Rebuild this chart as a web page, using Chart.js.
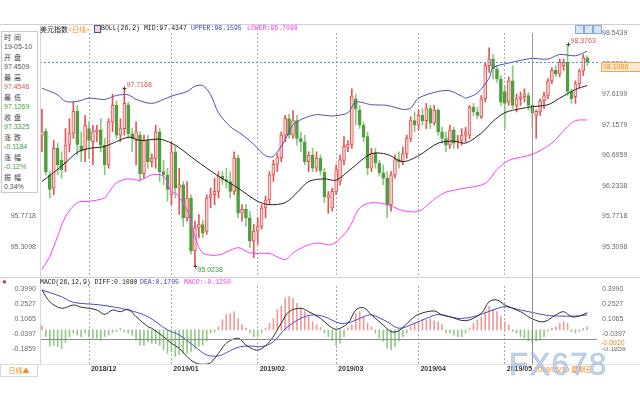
<!DOCTYPE html>
<html>
<head>
<meta charset="utf-8">
<script src="https://cdn.jsdelivr.net/npm/chart.js@4/dist/chart.umd.min.js"></script>
<style>
body { margin: 0; width: 640px; height: 400px; overflow: hidden; position: relative; background: #fff; }
canvas { position: absolute; left: 0; }
#main { top: 0; }
#macd { top: 277px; }
.hl { position: absolute; left: 0; width: 640px; height: 1px; background: #d0d0d0; }
.vl { position: absolute; width: 1px; background: #d6d6d6; }
.txt { position: absolute; white-space: nowrap; font: 6.5px/8px "Liberation Mono", "Noto Sans CJK SC", monospace; color: #222; }
.cjk { font-family: "Noto Sans CJK SC", sans-serif; font-size: 7px; }
#info { position: absolute; left: 1px; top: 31px; width: 37px; height: 162px; box-sizing: border-box;
  border: 1px solid #c8c8c8; background: #fff; padding-left: 2px;
  font: 7px/10px "Liberation Sans", "Noto Sans CJK SC", sans-serif; color: #555; }
#info .k { font-family: "Noto Sans CJK SC", sans-serif; letter-spacing: 3px; color: #444; }
#info .up { color: #e05550; }
#info .dn { color: #3f9a3f; }
#daybtn { position: absolute; left: 0; top: 364px; width: 38px; height: 13px; box-sizing: border-box;
  border: 1px solid #d8d8d8; font: 7px/11px "Noto Sans CJK SC", sans-serif; color: #f08a24; text-align: center; }
#wm { position: absolute; left: 509px; top: 349px; font: 31px/31px "Liberation Sans", Arial, sans-serif;
  letter-spacing: 1.5px; color: rgba(178, 203, 234, 0.8); -webkit-text-stroke: 0.6px rgba(125, 155, 196, 0.55); }
.btn { position: absolute; top: 25px; width: 7px; height: 7px; background: #d4e5f7; border: 1px solid #86aad2; }
</style>
</head>
<body>
<canvas id="main" width="640" height="277"></canvas>
<canvas id="macd" width="640" height="123"></canvas>

<div class="hl" style="top:24px"></div>
<div class="hl" style="top:277px"></div>
<div class="hl" style="top:364px;background:#e2e2e2"></div>
<div class="vl" style="left:40px;top:24px;height:341px"></div>

<div class="txt cjk" style="left:40px;top:25px">美元指数</div>
<div class="txt" style="left:68px;top:25px;color:#f0901c"><span>&lt;</span><span class="cjk">日线</span><span>&gt;</span></div>
<div style="position:absolute;left:94px;top:25px;width:5px;height:6px;border:1px solid #4b4bb4;background:#f3d4d4"></div>
<div class="txt" style="left:101px;top:25px">BOLL(26,2) MID:97.4347</div>
<div class="txt" style="left:191px;top:25px;color:#3b3bb8">UPPER:98.1595</div>
<div class="txt" style="left:247px;top:25px;color:#f03cf0">LOWER:96.7098</div>

<div class="btn" style="left:575px"></div>
<div class="btn" style="left:584px"></div>
<div class="btn" style="left:593px"></div>

<div id="info">
  <div class="k">时间</div><div>19-05-10</div>
  <div class="k">开盘</div><div>97.4509</div>
  <div class="k">最高</div><div class="up">97.4546</div>
  <div class="k">最低</div><div class="dn">97.1269</div>
  <div class="k">收盘</div><div class="dn">97.3325</div>
  <div class="k">涨跌</div><div class="dn">-0.1184</div>
  <div class="k">涨幅</div><div class="dn">-0.12%</div>
  <div class="k">振幅</div><div>0.34%</div>
</div>

<div class="txt" style="left:2px;top:278px;font-size:8px;color:#e03030">✹</div>
<div class="txt" style="left:40px;top:279px">MACD(26,12,9) DIFF:0.1080</div>
<div class="txt" style="left:140px;top:279px;color:#3b3bb8">DEA:0.1705</div>
<div class="txt" style="left:184px;top:279px;color:#f03cf0">MACD:-0.1250</div>

<div id="daybtn">日线▲</div>
<div id="wm">FX678</div>

<script>
// trading days shown on the chart
const months = ['2018/11', '2018/12', '2019/01', '2019/02', '2019/03', '2019/04', '2019/05'];
const days = [
  [15, 16, 19, 20, 21, 22, 23, 26, 27, 28, 29, 30],
  [3, 4, 5, 6, 7, 10, 11, 12, 13, 14, 17, 18, 19, 20, 21, 24, 25, 26, 27, 28, 31],
  [2, 3, 4, 7, 8, 9, 10, 11, 14, 15, 16, 17, 18, 21, 22, 23, 24, 25, 28, 29, 30, 31],
  [1, 4, 5, 6, 7, 8, 11, 12, 13, 14, 15, 18, 19, 20, 21, 22, 25, 26, 27, 28],
  [1, 4, 5, 6, 7, 8, 11, 12, 13, 14, 15, 18, 19, 20, 21, 22, 25, 26, 27, 28, 29],
  [1, 2, 3, 4, 5, 8, 9, 10, 11, 12, 15, 16, 17, 18, 19, 22, 23, 24, 25, 26, 29, 30],
  [1, 2, 3, 6, 7, 8, 9, 10, 13, 14, 15, 16, 17, 20, 21, 22, 23, 24, 27, 28, 29, 30]
];

// daily candles, US dollar index
const open = [
  97.00, 97.06, 96.40, 96.20, 96.80, 96.62, 96.58, 96.86, 97.03, 97.36, 96.84, 96.78,
  97.10, 96.90, 97.05, 97.08, 96.85, 96.55, 97.20, 97.45, 97.00, 97.10, 97.46, 97.02, 96.92, 97.00, 96.42, 96.92, 96.60, 96.65, 97.05, 96.45, 96.40,
  96.10, 96.75, 96.20, 96.25, 95.75, 96.05, 95.25, 95.60, 95.65, 95.55, 96.05, 96.10, 96.15, 96.38, 96.33, 96.30, 96.15, 96.65, 95.82, 95.88, 95.75, 95.40,
  95.55, 95.62, 95.90, 96.02, 96.40, 96.56, 96.66, 97.00, 97.25, 97.00, 97.22, 96.95, 96.90, 96.60, 96.70, 96.50, 96.65, 96.44, 96.05, 95.90,
  96.15, 96.30, 96.62, 96.82, 96.86, 97.55, 97.38, 97.15, 96.98, 96.50, 96.73, 96.58, 96.43, 96.35, 95.95, 96.40, 96.63, 96.60, 96.72, 96.95, 97.22,
  97.15, 97.30, 97.22, 97.40, 97.18, 97.38, 97.05, 96.95, 96.85, 97.08, 96.90, 96.92, 97.00, 97.00, 97.42, 97.35, 97.28, 97.55, 98.05, 98.15, 98.00, 97.85,
  97.66, 97.50, 97.82, 97.45, 97.55, 97.58, 97.60, 97.4509, 97.30, 97.36, 97.52, 97.60, 97.82, 97.98, 97.92, 98.05, 98.10, 97.66, 97.58, 97.78, 97.97, 98.17
];
const high = [
  97.39, 97.10, 96.45, 96.92, 96.88, 96.75, 97.10, 97.25, 97.50, 97.45, 97.05, 97.30,
  97.20, 97.15, 97.15, 97.25, 96.95, 97.25, 97.62, 97.52, 97.25, 97.7168, 97.50, 97.10, 97.20, 97.05, 97.00, 97.00, 96.72, 97.15, 97.10, 96.62, 96.50,
  96.90, 96.85, 96.50, 96.30, 96.30, 96.10, 95.70, 95.80, 95.72, 96.10, 96.20, 96.35, 96.45, 96.45, 96.50, 96.45, 96.75, 96.70, 95.95, 95.95, 95.85, 95.65,
  95.75, 95.95, 96.08, 96.45, 96.62, 96.72, 97.05, 97.30, 97.32, 97.37, 97.30, 97.05, 97.00, 96.75, 96.80, 96.75, 96.70, 96.50, 96.15, 96.20,
  96.55, 96.70, 96.98, 96.92, 97.70, 97.62, 97.45, 97.20, 97.05, 96.80, 96.80, 96.62, 96.55, 96.45, 96.45, 96.70, 96.75, 96.82, 97.00, 97.28, 97.35,
  97.38, 97.40, 97.48, 97.45, 97.45, 97.40, 97.12, 97.05, 97.15, 97.12, 97.00, 97.10, 97.12, 97.45, 97.48, 97.42, 97.60, 98.10, 98.32, 98.22, 98.05, 97.90,
  97.75, 97.88, 98.05, 97.62, 97.65, 97.70, 97.65, 97.4546, 97.38, 97.55, 97.65, 97.85, 98.02, 98.05, 98.15, 98.15, 98.3763, 97.70, 97.82, 98.00, 98.22, 98.20
];
const low = [
  96.75, 96.40, 96.05, 96.10, 96.40, 96.35, 96.45, 96.75, 96.95, 96.70, 96.60, 96.60,
  96.65, 96.55, 96.90, 96.75, 96.40, 96.50, 97.05, 96.95, 96.90, 97.00, 96.95, 96.75, 96.55, 96.30, 96.35, 96.50, 96.52, 96.50, 96.30, 96.25, 96.00,
  95.95, 96.05, 95.80, 95.62, 95.70, 95.20, 95.0238, 95.45, 95.45, 95.50, 95.90, 95.95, 96.05, 96.25, 96.20, 96.05, 96.10, 95.75, 95.70, 95.62, 95.30, 95.15,
  95.35, 95.58, 95.75, 95.95, 96.30, 96.45, 96.60, 96.90, 96.95, 96.95, 96.85, 96.75, 96.55, 96.45, 96.45, 96.45, 96.40, 95.98, 95.82, 95.85,
  96.10, 96.25, 96.55, 96.75, 96.80, 97.15, 97.10, 96.90, 96.40, 96.45, 96.50, 96.38, 96.25, 95.75, 95.85, 96.35, 96.50, 96.55, 96.65, 96.90, 97.05,
  97.08, 97.15, 97.10, 97.10, 97.15, 97.00, 96.88, 96.75, 96.80, 96.80, 96.80, 96.85, 96.90, 96.95, 97.30, 97.25, 97.25, 97.50, 97.95, 97.85, 97.80, 97.45,
  97.10, 97.45, 97.40, 97.35, 97.45, 97.50, 97.38, 97.1269, 96.95, 97.30, 97.40, 97.55, 97.78, 97.88, 97.88, 97.98, 97.60, 97.48, 97.48, 97.72, 97.90, 98.05
];
const close = [
  97.05, 96.45, 96.18, 96.80, 96.55, 96.48, 96.85, 97.03, 97.36, 96.86, 96.76, 97.15,
  96.92, 97.05, 97.08, 96.85, 96.55, 97.20, 97.45, 97.00, 97.10, 97.48, 97.02, 96.95, 97.05, 96.42, 96.92, 96.60, 96.65, 97.05, 96.45, 96.40, 96.18,
  96.75, 96.20, 96.25, 95.75, 96.05, 95.25, 95.60, 95.65, 95.52, 96.05, 96.10, 96.15, 96.38, 96.33, 96.30, 96.15, 96.65, 95.82, 95.88, 95.75, 95.40, 95.55,
  95.62, 95.90, 96.02, 96.40, 96.56, 96.66, 97.00, 97.25, 97.00, 97.22, 96.95, 96.90, 96.60, 96.70, 96.50, 96.65, 96.46, 96.07, 96.10, 96.15,
  96.48, 96.63, 96.83, 96.86, 97.59, 97.40, 97.15, 96.97, 96.50, 96.73, 96.58, 96.43, 96.35, 95.95, 96.40, 96.63, 96.60, 96.72, 96.95, 97.22, 97.15,
  97.30, 97.22, 97.40, 97.18, 97.38, 97.05, 96.95, 96.85, 97.08, 96.88, 96.92, 97.00, 97.05, 97.42, 97.35, 97.30, 97.55, 98.05, 98.15, 98.00, 97.85, 97.50,
  97.48, 97.82, 97.45, 97.55, 97.58, 97.62, 97.45, 97.3325, 97.36, 97.52, 97.60, 97.82, 97.98, 97.92, 98.10, 98.10, 97.66, 97.55, 97.78, 97.97, 98.17, 98.1086
];

// BOLL(26,2): [bar, value]
const bollUpper = [[0, 97.71], [4, 97.61], [6, 97.51], [9, 97.51], [12, 97.56], [16, 97.54], [19, 97.60], [22, 97.61], [24, 97.54], [28, 97.48], [31, 97.54], [33, 97.59], [37, 97.66], [39, 97.74], [41, 97.75], [43, 97.61], [45, 97.34], [48, 97.13], [51, 97.01], [54, 96.86], [57, 96.69], [59, 96.68], [62, 96.93], [64, 97.16], [67, 97.26], [70, 97.31], [74, 97.29], [78, 97.34], [80, 97.50], [84, 97.46], [88, 97.45], [92, 97.39], [94, 97.41], [96, 97.56], [101, 97.66], [104, 97.67], [107, 97.59], [108, 97.56], [111, 97.64], [114, 97.86], [115, 98.02], [119, 98.09], [122, 98.13], [125, 98.16], [129, 98.15], [132, 98.22], [136, 98.20], [139, 98.27]];
const bollMid = [[0, 96.30], [5, 96.53], [9, 96.74], [12, 96.80], [16, 96.83], [22, 96.97], [25, 96.92], [30, 96.94], [33, 96.88], [35, 96.81], [39, 96.63], [45, 96.38], [50, 96.20], [55, 96.00], [58, 95.95], [62, 95.98], [65, 96.13], [68, 96.30], [72, 96.34], [75, 96.32], [79, 96.50], [84, 96.72], [88, 96.71], [92, 96.60], [96, 96.69], [101, 96.88], [105, 96.91], [108, 96.88], [112, 97.03], [115, 97.21], [118, 97.34], [122, 97.40], [125, 97.43], [129, 97.46], [132, 97.56], [136, 97.69], [139, 97.75]];
const bollLower = [[0, 94.97], [2, 95.17], [4, 95.47], [6, 95.77], [9, 95.98], [12, 96.00], [16, 96.05], [17, 96.13], [19, 96.28], [22, 96.34], [25, 96.32], [28, 96.40], [31, 96.38], [33, 96.14], [34, 96.13], [37, 95.87], [39, 95.47], [41, 95.22], [45, 95.19], [50, 95.30], [53, 95.22], [58, 95.21], [62, 95.12], [64, 95.22], [67, 95.32], [70, 95.37], [74, 95.35], [78, 95.57], [81, 95.90], [84, 95.98], [88, 95.95], [92, 95.86], [96, 95.85], [100, 96.03], [103, 96.14], [107, 96.19], [113, 96.27], [116, 96.48], [119, 96.62], [125, 96.71], [130, 96.88], [134, 97.13], [136, 97.22], [139, 97.23]];

// MACD(26,12,9)
const macdDiff = [[0, 0.389], [2, 0.275], [5, 0.211], [8, 0.243], [10, 0.221], [12, 0.211], [14, 0.194], [16, 0.152], [18, 0.194], [20, 0.178], [22, 0.200], [24, 0.129], [27, 0.032], [28, 0.016], [31, -0.066], [33, -0.130], [35, -0.179], [37, -0.261], [39, -0.319], [41, -0.335], [43, -0.319], [45, -0.228], [47, -0.130], [50, -0.081], [52, -0.147], [55, -0.196], [58, -0.115], [61, 0.065], [63, 0.178], [66, 0.211], [68, 0.178], [71, 0.113], [73, 0.048], [75, 0.006], [78, 0.065], [80, 0.194], [82, 0.217], [84, 0.146], [87, 0.048], [89, -0.017], [91, -0.007], [94, 0.097], [96, 0.152], [100, 0.185], [102, 0.146], [104, 0.129], [108, 0.090], [112, 0.162], [114, 0.275], [116, 0.292], [118, 0.243], [122, 0.178], [125, 0.108], [128, 0.080], [131, 0.146], [133, 0.178], [135, 0.129], [137, 0.136], [139, 0.168]];
const macdDea = [[0, 0.389], [5, 0.324], [8, 0.269], [15, 0.243], [22, 0.194], [27, 0.129], [32, 0.000], [35, -0.049], [39, -0.163], [42, -0.244], [45, -0.254], [47, -0.222], [50, -0.169], [53, -0.157], [56, -0.163], [59, -0.115], [62, 0.010], [66, 0.113], [69, 0.146], [72, 0.129], [76, 0.065], [79, 0.080], [82, 0.129], [84, 0.146], [88, 0.080], [91, 0.016], [95, 0.065], [98, 0.113], [101, 0.150], [106, 0.113], [110, 0.129], [115, 0.194], [118, 0.226], [122, 0.194], [125, 0.1705], [129, 0.140], [132, 0.135], [136, 0.135], [139, 0.146]];
const macdBar = [
  0.04, -0.065, -0.16, -0.15, -0.16, -0.18, -0.12, -0.065, -0.03, -0.05, -0.065, -0.03, -0.065, -0.08, -0.08, -0.10, -0.065, -0.05, -0.025, -0.015,
  0.015, -0.02, -0.03, -0.05, -0.10, -0.15, -0.15, -0.115, -0.13, -0.135, -0.15, -0.195, -0.23, -0.21, -0.26, -0.24, -0.23, -0.23, -0.21, -0.18,
  -0.16, -0.15, -0.11, -0.03, -0.02, 0.03, 0.10, 0.15, 0.16, 0.18, 0.11, 0.05, 0.015, -0.03, -0.065, -0.065, -0.03, 0.015, 0.065, 0.11,
  0.20, 0.23, 0.31, 0.325, 0.31, 0.26, 0.21, 0.18, 0.13, 0.08, 0.05, 0.025, -0.03, -0.065, -0.10, -0.15, -0.13, -0.065, 0.02, 0.05,
  0.16, 0.18, 0.13, 0.065, 0.03, -0.03, -0.08, -0.11, -0.18, -0.195, -0.16, -0.11, -0.065, -0.03, 0.03, 0.065, 0.08, 0.10, 0.10, 0.11,
  0.09, 0.08, 0.05, -0.03, -0.03, -0.05, -0.065, -0.065, -0.03, 0.015, 0.065, 0.10, 0.13, 0.18, 0.23, 0.20, 0.18, 0.13, 0.08, 0.05,
  -0.015, -0.03, -0.065, -0.08, -0.11, -0.125, -0.11, -0.10, -0.065, -0.015, 0.015, 0.03, 0.065, 0.08, 0.065, -0.015, -0.03, -0.015, 0.015, 0.03
];

// axis ticks
const priceTicks = [98.5439, 98.0819, 97.6199, 97.1579, 96.6959, 96.2338, 95.7718, 95.3098];
const macdTicks = [0.3990, 0.2527, 0.1065, -0.0397, -0.1859];

// cursor and marks
const crossDate = '2019/05/10';
const crossWeekday = '星期五';
const crossMacd = -0.0920;
const extremes = [[21, 'high'], [39, 'low'], [134, 'high']];

const NUM = '"Liberation Sans", Arial, sans-serif';
const RED = '#e25555', PINK = '#fbd6d6', GREEN = '#4f9e3f', LGREEN = '#8cc580';

const dates = [];
months.forEach((m, k) => days[k].forEach(d => dates.push(m + '/' + String(d).padStart(2, '0'))));
const monthStarts = dates.map((d, i) => i > 0 && d.slice(0, 7) !== dates[i - 1].slice(0, 7) ? i : -1).filter(i => i >= 0);
const xLabels = dates.concat([' ', '  ']);
const crossBar = dates.indexOf(crossDate);
const lastPrice = close[close.length - 1];
const isUp = open.map((o, i) => close[i] >= o);
const pts = arr => arr.map(([i, v]) => ({ x: dates[i], y: v }));

const gridColor = ctx => monthStarts.includes(ctx.index) ? '#a9a9a9' : 'rgba(0,0,0,0)';

// the left price labels above the info box are covered in the original
function yAxis(pos, width, ticks, min, max, hideAbove) {
  return {
    position: pos, min: min, max: max,
    grid: { display: false, drawTicks: false },
    border: { display: false },
    ticks: {
      padding: pos === 'right' ? 5 : 4, color: '#6b6b6b', font: { size: 7, family: NUM },
      callback: v => (hideAbove !== undefined && v > hideAbove) ? '' : v.toFixed(4)
    },
    afterBuildTicks: s => { s.ticks = ticks.map(v => ({ value: v })); },
    afterFit: s => { s.width = width; s.paddingTop = 0; s.paddingBottom = 0; }
  };
}

const mainOverlay = {
  id: 'mainOverlay',
  afterDatasetsDraw(chart) {
    const { ctx, chartArea: a } = chart;
    const xs = chart.scales.x, ys = chart.scales.y;
    ctx.save();
    ctx.lineWidth = 1;
    const py = Math.round(ys.getPixelForValue(lastPrice)) + 0.5;
    ctx.setLineDash([2, 2]);
    ctx.strokeStyle = '#4f95e0';
    ctx.beginPath(); ctx.moveTo(a.left, py); ctx.lineTo(a.right + 2, py); ctx.stroke();
    ctx.setLineDash([]);
    const cx = Math.round(xs.getPixelForValue(crossBar)) + 0.5;
    ctx.strokeStyle = '#999';
    ctx.beginPath(); ctx.moveTo(cx, a.top); ctx.lineTo(cx, chart.height); ctx.stroke();
    ctx.font = '7px ' + NUM;
    ctx.textAlign = 'left';
    ctx.textBaseline = 'middle';
    extremes.forEach(([bar, kind]) => {
      const top = kind === 'high';
      const v = top ? high[bar] : low[bar];
      const mx = Math.round(xs.getPixelForValue(bar)) + 0.5;
      const my = Math.round(ys.getPixelForValue(v)) + 0.5;
      ctx.strokeStyle = '#444';
      ctx.beginPath();
      ctx.moveTo(mx - 2, my); ctx.lineTo(mx + 2, my);
      ctx.moveTo(mx, my - 2); ctx.lineTo(mx, my + 2);
      ctx.stroke();
      ctx.fillStyle = top ? '#e0524c' : '#3f9b3f';
      ctx.fillText(v.toFixed(4), mx + 2, top ? my - 3 : my + 4);
    });
    ctx.restore();
  },
  afterDraw(chart) {
    const { ctx, chartArea: a } = chart;
    const py = Math.round(chart.scales.y.getPixelForValue(lastPrice));
    ctx.save();
    ctx.fillStyle = '#fde9d2';
    ctx.fillRect(a.right + 4, py, 39, 10);
    ctx.strokeStyle = '#f2a54a';
    ctx.strokeRect(a.right + 4.5, py + 0.5, 40, 9);
    ctx.fillStyle = '#ee8a1c';
    ctx.font = '7px ' + NUM;
    ctx.textBaseline = 'middle';
    ctx.fillText(lastPrice.toFixed(4), a.right + 6, py + 5);
    ctx.restore();
  }
};

const macdOverlay = {
  id: 'macdOverlay',
  afterDatasetsDraw(chart) {
    const { ctx, chartArea: a } = chart;
    const cx = Math.round(chart.scales.x.getPixelForValue(crossBar)) + 0.5;
    const cy = Math.round(chart.scales.y.getPixelForValue(crossMacd)) + 0.5;
    ctx.save();
    ctx.lineWidth = 1;
    ctx.strokeStyle = '#8c8c8c';
    ctx.beginPath();
    ctx.moveTo(cx, 0); ctx.lineTo(cx, a.bottom);
    ctx.moveTo(a.left, cy); ctx.lineTo(a.right, cy);
    ctx.stroke();
    ctx.restore();
  },
  afterDraw(chart) {
    const { ctx, chartArea: a } = chart;
    const cx = Math.round(chart.scales.x.getPixelForValue(crossBar));
    const cy = Math.round(chart.scales.y.getPixelForValue(crossMacd));
    ctx.save();
    ctx.font = '7px ' + NUM;
    ctx.textBaseline = 'middle';
    ctx.fillStyle = '#fff';
    ctx.fillRect(a.right + 3, cy - 1, 37, 9);
    ctx.fillStyle = '#f08a24';
    ctx.fillText(crossMacd.toFixed(4), a.right + 4, cy + 4);
    const label = crossDate + ' ' + crossWeekday;
    ctx.font = '7px ' + NUM + ', "Noto Sans CJK SC"';
    ctx.fillStyle = '#fff';
    ctx.fillRect(cx + 1, a.bottom + 1, ctx.measureText(label).width + 2, 9);
    ctx.fillStyle = '#f08a24';
    ctx.fillText(label, cx + 2, a.bottom + 5);
    ctx.restore();
  }
};

new Chart(document.getElementById('main'), {
  type: 'bar',
  data: {
    labels: xLabels,
    datasets: [
      { type: 'line', data: pts(bollUpper), borderColor: '#4f4fb8', borderWidth: 1, pointRadius: 0, tension: 0.3, order: 0 },
      { type: 'line', data: pts(bollMid), borderColor: '#222', borderWidth: 1, pointRadius: 0, tension: 0.3, order: 0 },
      { type: 'line', data: pts(bollLower), borderColor: '#ff3cff', borderWidth: 1, pointRadius: 0, tension: 0.3, order: 0 },
      {
        data: open.map((o, i) => [o, close[i]]),
        backgroundColor: isUp.map(u => u ? PINK : GREEN),
        borderColor: isUp.map(u => u ? RED : GREEN),
        borderWidth: 1, borderSkipped: false, barThickness: 3, minBarLength: 1, grouped: false, order: 1
      },
      {
        data: high.map((h, i) => [low[i], h]),
        backgroundColor: isUp.map(u => u ? RED : LGREEN),
        barThickness: 1, grouped: false, order: 2
      }
    ]
  },
  options: {
    responsive: false, animation: false, devicePixelRatio: 1,
    layout: { padding: { top: 33, bottom: 2, left: 0, right: 0 } },
    plugins: { legend: { display: false }, tooltip: { enabled: false } },
    scales: {
      x: {
        offset: true,
        grid: { offset: false, color: gridColor, drawTicks: false },
        border: { display: false, dash: [2, 2] },
        ticks: { display: false },
        afterFit: s => { s.height = 0; s.paddingLeft = 0; s.paddingRight = 0; }
      },
      y: yAxis('right', 43, priceTicks, 94.887, 98.5439),
      yL: yAxis('left', 40, priceTicks, 94.887, 98.5439, 96.0)
    }
  },
  plugins: [mainOverlay]
});

new Chart(document.getElementById('macd'), {
  type: 'bar',
  data: {
    labels: xLabels,
    datasets: [
      { type: 'line', data: pts(macdDiff), borderColor: '#2e2e2e', borderWidth: 1, pointRadius: 0, tension: 0.35, order: 0 },
      { type: 'line', data: pts(macdDea), borderColor: '#4a4ac8', borderWidth: 1, pointRadius: 0, tension: 0.35, order: 0 },
      { data: macdBar, backgroundColor: macdBar.map(v => v >= 0 ? '#ef9a9a' : '#92c98a'), barThickness: 1, order: 1 }
    ]
  },
  options: {
    responsive: false, animation: false, devicePixelRatio: 1,
    layout: { padding: { top: 9, bottom: 0, left: 0, right: 0 } },
    plugins: { legend: { display: false }, tooltip: { enabled: false } },
    scales: {
      x: {
        offset: true,
        grid: { offset: false, color: gridColor, drawTicks: false },
        border: { display: false, dash: [2, 2] },
        ticks: {
          autoSkip: false, maxRotation: 0, minRotation: 0, align: 'start', padding: 0,
          color: '#333', font: { size: 7, family: NUM, weight: 'bold' },
          callback: (v, i) => monthStarts.includes(i) ? ' ' + dates[i].slice(0, 7) : ''
        },
        afterFit: s => { s.height = 35; s.paddingLeft = 0; s.paddingRight = 0; }
      },
      y: yAxis('right', 43, macdTicks, -0.3418, 0.4282),
      yL: yAxis('left', 40, macdTicks, -0.3418, 0.4282)
    }
  },
  plugins: [macdOverlay]
});
</script>
</body>
</html>
